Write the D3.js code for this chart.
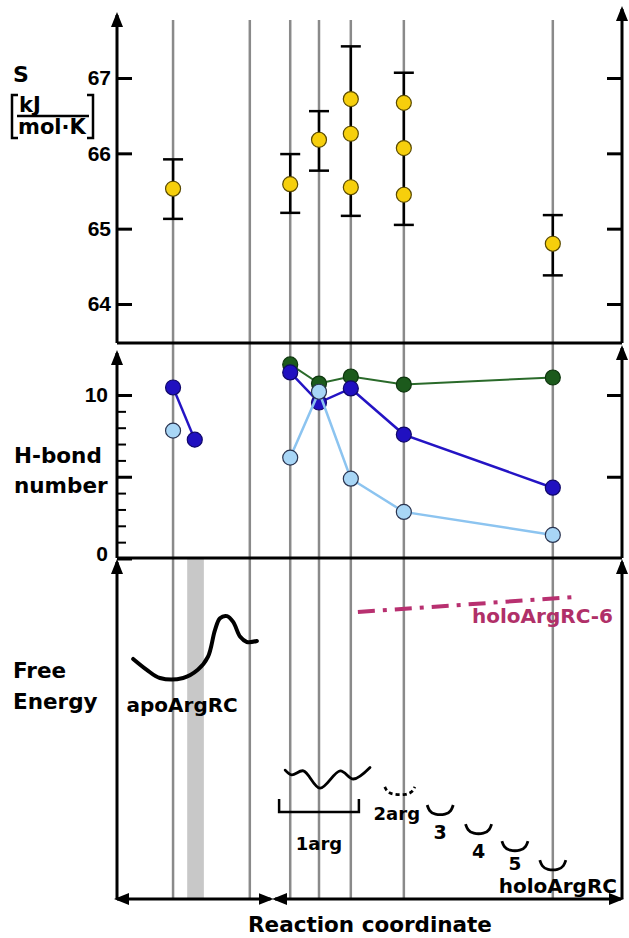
<!DOCTYPE html>
<html>
<head>
<meta charset="utf-8">
<script src="https://cdn.jsdelivr.net/npm/d3@7"></script>
<style>
  html, body { margin: 0; padding: 0; background: #fff; }
  svg { display: block; }
</style>
</head>
<body>
<svg id="chart" width="629" height="938"></svg>
<script>
// reaction coordinate (arbitrary units 0-100) of the sampled states
const stateX = [11.1, 26.3, 34.3, 40.0, 46.3, 56.8, 86.3];
const bandX = [13.9, 17.2];

// entropy panel
const sTicks = [64, 65, 66, 67];
const sX = [11.1, 34.3, 40.0, 46.3, 46.3, 46.3, 56.8, 56.8, 56.8, 86.3];
const sValues = [65.53, 65.59, 66.18, 66.72, 66.26, 65.55, 66.67, 66.07, 65.45, 64.80];
const errX = [11.1, 34.3, 40.0, 46.3, 56.8, 86.3];
const errLow = [65.13, 65.21, 65.77, 65.17, 65.05, 64.38];
const errHigh = [65.92, 65.99, 66.56, 67.42, 67.07, 65.18];

// H-bond panel
const hbMajorTicks = [0, 5, 10];
const hbMinorTicks = [1, 2, 3, 4, 6, 7, 8, 9];
const apoX = [11.1, 15.4];
const holoX = [34.3, 40.0, 46.3, 56.8, 86.3];
const darkBlueApo = [10.46, 7.27];
const darkBlueHolo = [11.38, 9.54, 10.40, 7.58, 4.33];
const greenHolo = [11.87, 10.70, 11.13, 10.64, 11.07];
const lightBlueApoX = [11.1];
const lightBlueApo = [7.82];
const lightBlueHolo = [6.17, 10.20, 4.88, 2.85, 1.44];

// free energy panel (arbitrary units 0-10)
const apoCurveX = [3.2, 5.9, 8.5, 13.1, 16.0, 18.0, 19.4, 20.4, 21.8, 23.0, 24.4, 25.7, 27.7];
const apoCurveG = [7.06, 6.74, 6.50, 6.50, 6.74, 7.12, 7.91, 8.26, 8.32, 8.15, 7.71, 7.56, 7.59];
const arg1CurveX = [33.3, 34.6, 36.9, 40.2, 44.2, 46.8, 50.1];
const arg1CurveG = [3.79, 3.65, 3.77, 3.26, 3.77, 3.53, 3.87];
const arg1Range = [32.1, 47.9];
const arg1BracketG = [2.56, 2.94];
const holo6X = [47.7, 90.3];
const holo6G = [8.44, 8.88];
const basinX = [56.0, 64.0, 71.6, 78.8, 86.3];
const basinG = [3.06, 2.47, 1.91, 1.41, 0.85];
const basinLabels = ["2arg", "3", "4", "5", "holoArgRC"];
const rcSegments = [[0, 30.4], [31.3, 99.8]];

const zip = (xs, ys) => xs.map((v, i) => [v, ys[i]]);

const svg = d3.select("#chart");
const left = 117, right = 622;
const x = d3.scaleLinear().domain([0, 100]).range([left, right]);
const yS = d3.scaleLinear().domain([64, 67]).range([304, 78]);
const yH = d3.scaleLinear().domain([0, 10]).range([558.5, 395]);
const yG = d3.scaleLinear().domain([0, 10]).range([899, 559]);

const labelFont = "'DejaVu Sans', sans-serif";
const numFont = "'Liberation Sans', Arial, sans-serif";

const defs = svg.append("defs");
defs.append("marker")
    .attr("id", "arrow")
    .attr("viewBox", "0 0 10 10")
    .attr("refX", 8).attr("refY", 5)
    .attr("markerWidth", 15).attr("markerHeight", 12)
    .attr("markerUnits", "userSpaceOnUse")
    .attr("preserveAspectRatio", "none")
    .attr("orient", "auto-start-reverse")
    .append("path").attr("d", "M0,0 L10,5 L0,10 z").attr("fill", "#000");

// gray band and state lines
svg.append("rect")
    .attr("x", x(bandX[0])).attr("y", 558)
    .attr("width", x(bandX[1]) - x(bandX[0])).attr("height", 899 - 558)
    .attr("fill", "#c8c8c8");

svg.selectAll(".state").data(stateX).enter().append("line")
    .attr("x1", d => x(d)).attr("x2", d => x(d))
    .attr("y1", 20).attr("y2", 899)
    .attr("stroke", "#8a8a8a").attr("stroke-width", 2.5);

// frame: panel separators and axes with arrows
[343, 558].forEach(y => {
    svg.append("line").attr("x1", left).attr("x2", right).attr("y1", y).attr("y2", y)
        .attr("stroke", "#000").attr("stroke-width", 3);
});
const axes = [
    { x: left, y1: 343, y2: 15 }, { x: right, y1: 343, y2: 9 },
    { x: left, y1: 558, y2: 353 }, { x: right, y1: 558, y2: 348 },
    { x: left, y1: 899, y2: 562 }, { x: right, y1: 899, y2: 562 }
];
axes.forEach(a => {
    svg.append("line").attr("x1", a.x).attr("x2", a.x).attr("y1", a.y1).attr("y2", a.y2)
        .attr("stroke", "#000").attr("stroke-width", 3).attr("marker-end", "url(#arrow)");
});
rcSegments.forEach(s => {
    svg.append("line").attr("x1", x(s[0])).attr("x2", x(s[1])).attr("y1", 899).attr("y2", 899)
        .attr("stroke", "#000").attr("stroke-width", 3)
        .attr("marker-start", "url(#arrow)").attr("marker-end", "url(#arrow)");
});

// tick axes
function styleAxis(g, width) {
    g.select(".domain").remove();
    g.selectAll(".tick line").attr("stroke", "#000").attr("stroke-width", width);
    g.attr("font-family", numFont).attr("font-size", 21).attr("font-weight", "bold");
    g.selectAll(".tick text").attr("fill", "#000");
}
svg.append("g").attr("transform", `translate(${left},0)`)
    .call(d3.axisLeft(yS).tickValues(sTicks).tickSize(-15).tickPadding(6).tickFormat(d3.format("d")))
    .call(g => styleAxis(g, 3));
svg.append("g").attr("transform", `translate(${right},0)`)
    .call(d3.axisRight(yS).tickValues(sTicks).tickSize(-15).tickFormat(""))
    .call(g => styleAxis(g, 3));
svg.append("g").attr("transform", `translate(${left},0)`)
    .call(d3.axisLeft(yH).tickValues(hbMajorTicks).tickSize(-15).tickPadding(9)
        .tickFormat(d => d === 5 ? "" : d))
    .call(g => styleAxis(g, 3))
    .call(g => g.selectAll(".tick text").filter(d => d === 0).attr("dy", "0.1em"));
svg.append("g").attr("transform", `translate(${left},0)`)
    .call(d3.axisLeft(yH).tickValues(hbMinorTicks).tickSize(-9).tickFormat(""))
    .call(g => styleAxis(g, 2));
svg.append("g").attr("transform", `translate(${right},0)`)
    .call(d3.axisRight(yH).tickValues([5, 10]).tickSize(-15).tickFormat(""))
    .call(g => styleAxis(g, 3));

// entropy error bars and points
const capW = 10;
errX.forEach((ex, i) => {
    const g = svg.append("g").attr("stroke", "#000").attr("stroke-width", 2.5);
    g.append("line").attr("x1", x(ex)).attr("x2", x(ex)).attr("y1", yS(errLow[i])).attr("y2", yS(errHigh[i]));
    [errLow[i], errHigh[i]].forEach(v => {
        g.append("line").attr("x1", x(ex) - capW).attr("x2", x(ex) + capW).attr("y1", yS(v)).attr("y2", yS(v));
    });
});
svg.selectAll(".spt").data(zip(sX, sValues)).enter().append("circle")
    .attr("cx", d => x(d[0])).attr("cy", d => yS(d[1])).attr("r", 7.5)
    .attr("fill", "#f6cf0c").attr("stroke", "#5a4a00").attr("stroke-width", 1.2);

// H-bond series
const hLine = d3.line().x(d => x(d[0])).y(d => yH(d[1]));
const series = [
    { segs: [zip(holoX, greenHolo)], line: "#2a6a2a", fill: "#1c5a1c", stroke: "#0e360e", w: 2 },
    { segs: [zip(apoX, darkBlueApo), zip(holoX, darkBlueHolo)], line: "#2414c4", fill: "#2010c0", stroke: "#10086a", w: 2.5 },
    { segs: [zip(lightBlueApoX, lightBlueApo), zip(holoX, lightBlueHolo)], line: "#8cc4f0", fill: "#a8d6f6", stroke: "#2a3450", w: 2.5 }
];
series.forEach(s => {
    s.segs.forEach(seg => {
        if (seg.length > 1) {
            svg.append("path").attr("d", hLine(seg)).attr("fill", "none")
                .attr("stroke", s.line).attr("stroke-width", s.w);
        }
    });
    s.segs.forEach(seg => {
        svg.selectAll(null).data(seg).enter().append("circle")
            .attr("cx", d => x(d[0])).attr("cy", d => yH(d[1])).attr("r", 7.5)
            .attr("fill", s.fill).attr("stroke", s.stroke).attr("stroke-width", 1.2);
    });
});

// free energy sketches
const gLine = d3.line().x(d => x(d[0])).y(d => yG(d[1])).curve(d3.curveCatmullRom.alpha(0.5));
svg.append("path").attr("d", gLine(zip(apoCurveX, apoCurveG)))
    .attr("fill", "none").attr("stroke", "#000").attr("stroke-width", 4).attr("stroke-linecap", "round");
svg.append("path").attr("d", gLine(zip(arg1CurveX, arg1CurveG)))
    .attr("fill", "none").attr("stroke", "#000").attr("stroke-width", 2.8).attr("stroke-linecap", "round");
svg.append("path")
    .attr("d", d3.line()([[x(arg1Range[0]), yG(arg1BracketG[1])], [x(arg1Range[0]), yG(arg1BracketG[0])],
        [x(arg1Range[1]), yG(arg1BracketG[0])], [x(arg1Range[1]), yG(arg1BracketG[1])]]))
    .attr("fill", "none").attr("stroke", "#000").attr("stroke-width", 2.5);
svg.append("path").attr("d", d3.line().x(d => x(d[0])).y(d => yG(d[1]))(zip(holo6X, holo6G)))
    .attr("fill", "none").attr("stroke", "#b83070").attr("stroke-width", 4)
    .attr("stroke-dasharray", "17,8,4,8");

// small basins
const basinShape = [[-1, 1], [-0.85, 0.4], [-0.45, 0.02], [0.45, 0.02], [0.85, 0.4], [1, 1]];
const basinCurve = d3.line().curve(d3.curveBasis);
const basinLabelDy = [25, 24, 24, 18.5, 23];
const basinLabelSize = [18, 19, 19, 18.5, 20];
basinX.forEach((bx, i) => {
    const hw = i === 0 ? 15 : 13, depth = i === 0 ? 8 : 10;
    const pts = basinShape.map(p => [x(bx) + p[0] * hw, yG(basinG[i]) - p[1] * depth]);
    svg.append("path").attr("d", basinCurve(pts)).attr("fill", "none")
        .attr("stroke", "#000").attr("stroke-width", 2.8)
        .attr("stroke-dasharray", i === 0 ? "4,3" : null);
    svg.append("text")
        .attr("x", x(bx) + (i === 0 ? -3 : i === 4 ? 5 : 0))
        .attr("y", yG(basinG[i]) + basinLabelDy[i])
        .attr("text-anchor", "middle")
        .attr("font-family", labelFont).attr("font-weight", "bold")
        .attr("font-size", basinLabelSize[i])
        .text(basinLabels[i]);
});

// texts
function label(t, tx, ty, size, opts = {}) {
    return svg.append("text").attr("x", tx).attr("y", ty)
        .attr("font-family", labelFont).attr("font-weight", "bold").attr("font-size", size)
        .attr("text-anchor", opts.anchor || "start").attr("fill", opts.fill || "#000").text(t);
}
label("S", 13, 82, 22);
label("kJ", 19, 112, 21);
label("mol\u00b7K", 18, 134, 21);
svg.append("line").attr("x1", 17).attr("x2", 89).attr("y1", 116).attr("y2", 116)
    .attr("stroke", "#000").attr("stroke-width", 2.5);
svg.append("path").attr("d", "M18,95H12V138H18M87,95H93V138H87")
    .attr("fill", "none").attr("stroke", "#000").attr("stroke-width", 2.5);
label("H-bond", 14, 463, 21.5);
label("number", 14, 493, 21.5);
label("Free", 13, 678, 21.5);
label("Energy", 13, 709, 21.5);
label("apoArgRC", x(12.9), yG(6.50) + 34, 20, { anchor: "middle" });
label("1arg", x((arg1Range[0] + arg1Range[1]) / 2), yG(arg1BracketG[0]) + 38, 18, { anchor: "middle" });
label("holoArgRC-6", x(holo6X[1]) + 40, yG(holo6G[1]) + 26, 20, { anchor: "end", fill: "#b03068" });
label("Reaction coordinate", 370, 932, 21.5, { anchor: "middle" });
</script>
</body>
</html>
